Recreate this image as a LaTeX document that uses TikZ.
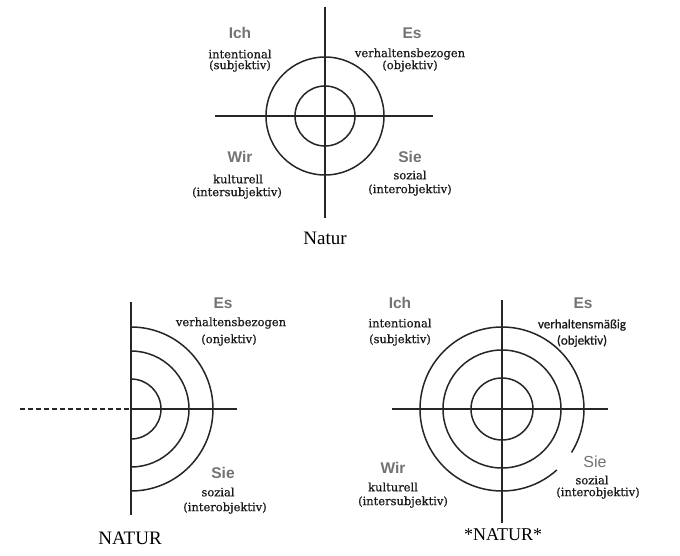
\documentclass[tikz,border=0pt]{standalone}
\usepackage{fontspec}
\setmainfont{Liberation Serif}
\setsansfont{Liberation Sans}
\newfontfamily\subfont[FakeBold=0.6]{DejaVu Serif}
\newfontfamily\calfont[FakeBold=0.6]{Carlito}
\begin{document}
\begin{tikzpicture}[x=1pt,y=-1pt,
  ax/.style={line width=1.5pt, draw=black!85},
  quad/.style={font=\sffamily\bfseries\fontsize{15.5}{15.5}\selectfont, text=black!55, inner sep=0pt},
  sub/.style={font=\subfont\fontsize{11.5}{11.5}\selectfont, text=black!90, inner sep=0pt},
  subsans/.style={font=\calfont\fontsize{13}{13}\selectfont, text=black!90, inner sep=0pt},
  nat/.style={font=\fontsize{19}{19}\selectfont, inner sep=0pt}]
\useasboundingbox[fill=white] (0,0) rectangle (680,556);

% ---------- top diagram ----------
\coordinate (c1) at (325,116);
\coordinate (t1) at (325,7);
\coordinate (b1) at (325,218);
\coordinate (l1) at (215,116);
\coordinate (r1) at (433,116);
\draw[ax] (t1) -- (b1);
\draw[ax] (l1) -- (r1);
\draw[ax] (c1) circle[radius=59];
\draw[ax] (c1) circle[radius=30];
\node[quad] (ich1) at (240,33) {Ich};
\node[sub] (ich1a) at (240,54) {intentional};
\node[sub] (ich1b) at (240,66) {(subjektiv)};
\node[quad] (es1) at (412,33) {Es};
\node[sub] (es1a) at (410,54) {verhaltensbezogen};
\node[sub] (es1b) at (410,66) {(objektiv)};
\node[quad] (wir1) at (240,157) {Wir};
\node[sub] (wir1a) at (238,179) {kulturell};
\node[sub] (wir1b) at (237,193) {(intersubjektiv)};
\node[quad] (sie1) at (410,157) {Sie};
\node[sub] (sie1a) at (410,175) {sozial};
\node[sub] (sie1b) at (410,190) {(interobjektiv)};
\node[nat] (nat1) at (325,238) {Natur};

% ---------- bottom-left diagram ----------
\coordinate (c2) at (131,409);
\coordinate (t2) at (131,302);
\coordinate (b2) at (131,515);
\coordinate (l2) at (20,409);
\coordinate (r2) at (237,409);
\draw[ax] (t2) -- (b2);
\draw[ax] (c2) -- (r2);
\draw[ax, dash pattern=on 5pt off 3pt] (l2) -- (c2);
\draw[ax] (c2) ++(-90:30) arc[start angle=-90, end angle=90, radius=30];
\draw[ax] (c2) ++(-90:58) arc[start angle=-90, end angle=90, radius=58];
\draw[ax] (c2) ++(-90:82) arc[start angle=-90, end angle=90, radius=82];
\node[quad] (es2) at (223,303) {Es};
\node[sub] (es2a) at (231,323) {verhaltensbezogen};
\node[sub] (es2b) at (229,340) {(onjektiv)};
\node[quad] (sie2) at (223,473) {Sie};
\node[sub] (sie2a) at (218,492) {sozial};
\node[sub] (sie2b) at (225,508) {(interobjektiv)};
\node[nat] (nat2) at (130,538) {NATUR};

% ---------- bottom-right diagram ----------
\coordinate (c3) at (502,409);
\coordinate (t3) at (502,300);
\coordinate (b3) at (502,523);
\coordinate (l3) at (392,409);
\coordinate (r3) at (608,409);
\draw[ax] (t3) -- (b3);
\draw[ax] (l3) -- (r3);
\draw[ax] (c3) circle[radius=31];
\draw[ax] (c3) circle[radius=59];
\draw[ax] (c3) ++(48:82) arc[start angle=48, end angle=392, radius=82];
\node[quad] (ich3) at (400,303) {Ich};
\node[sub] (ich3a) at (400,323) {intentional};
\node[sub] (ich3b) at (400,340) {(subjektiv)};
\node[quad] (es3) at (583,303) {Es};
\node[subsans] (es3a) at (582,325) {verhaltensmäßig};
\node[subsans] (es3b) at (582,341) {(objektiv)};
\node[quad] (wir3) at (393,468) {Wir};
\node[sub] (wir3a) at (393,487) {kulturell};
\node[sub] (wir3b) at (403,502) {(intersubjektiv)};
\node[quad, font=\sffamily\fontsize{16}{16}\selectfont] (sie3) at (595,462) {Sie};
\node[sub] (sie3a) at (592,480) {sozial};
\node[sub] (sie3b) at (598,493) {(interobjektiv)};
\node[nat, font=\fontsize{18}{18}\selectfont] (nat3) at (503,535) {*NATUR*};
\end{tikzpicture}
\end{document}
